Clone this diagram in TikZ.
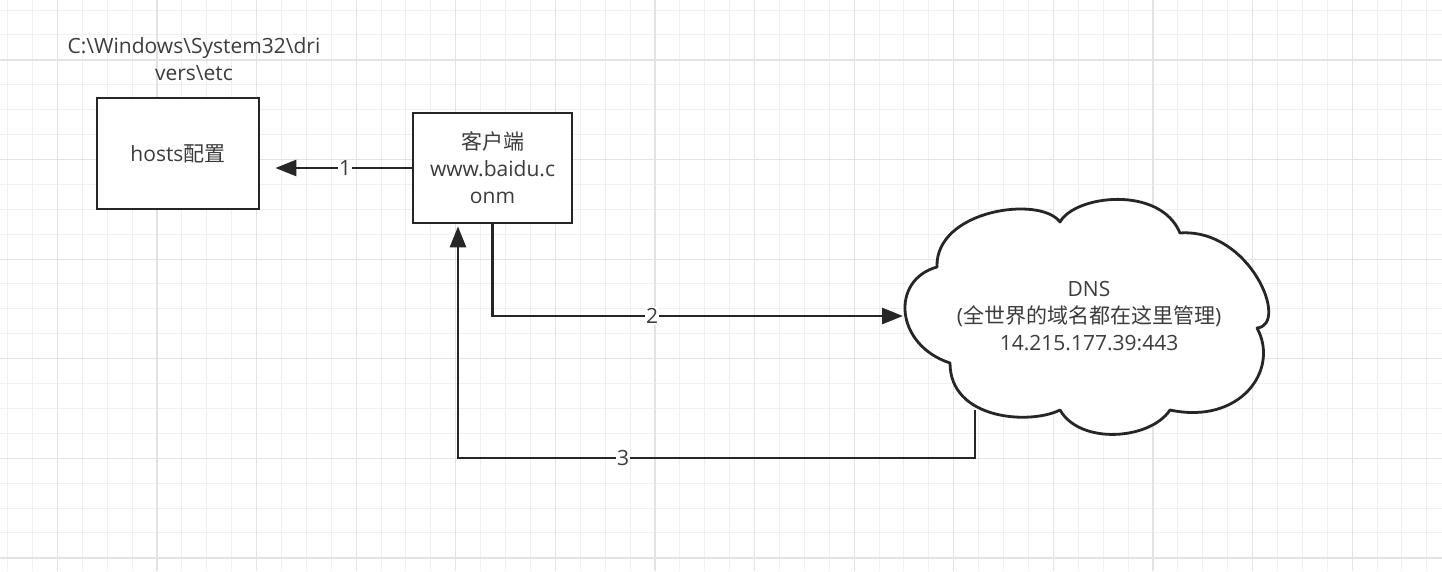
\documentclass[tikz,border=0pt]{standalone}
\usepackage{fontspec}
\setmainfont{Open Sans}
\newfontfamily\zh{Noto Sans CJK SC}
\usetikzlibrary{arrows.meta}
\definecolor{ink}{HTML}{262626}
\definecolor{txt}{HTML}{3C3C3C}
\definecolor{gridminor}{HTML}{F0F0F3}
\definecolor{gridmajor}{HTML}{E3E3E7}
\begin{document}
\begin{tikzpicture}[x=1pt,y=-1pt,
  every node/.style={font=\fontsize{21}{27}\selectfont, text=txt},
  box/.style={draw=ink, line width=2.8pt, fill=white, inner sep=0pt, align=center},
  arr/.style={draw=ink, line width=2.8pt, -{Triangle[length=21pt,width=16pt]}},
  lbl/.style={fill=white, inner sep=1pt},
  gminor/.style={draw=gridminor, line width=1pt},
  gmajor/.style={draw=gridmajor, line width=1.2pt}]
\useasboundingbox (0,0) rectangle (1442,571);
\fill[white] (0,0) rectangle (1442,571);

% background grid
\foreach \i in {0,...,57} {\draw[gminor] ({7.5+24.9*\i},0) -- ({7.5+24.9*\i},571);}
\foreach \j in {0,...,22} {\draw[gminor] (0,{10+24.9*\j}) -- (1442,{10+24.9*\j});}
\foreach \i in {0,...,13} {\draw[gmajor] ({57.3+99.6*\i},0) -- ({57.3+99.6*\i},571);}
\foreach \j in {0,...,5} {\draw[gmajor] (0,{60+99.6*\j}) -- (1442,{60+99.6*\j});}

% hosts file and its location
\node[align=center] (path) at (194,59) {C:\textbackslash Windows\textbackslash System32\textbackslash dri\\vers\textbackslash etc};
\node[box, minimum width=162pt, minimum height=111pt] (hosts) at (178,153.5) {hosts{\zh 配置}};

% client
\node[box, minimum width=159pt, minimum height=110pt] (client) at (492.5,168)
  {{\zh 客户端}\\www.baidu.c\\onm};

% DNS cloud
\draw[ink, line width=2.8pt, fill=white, line join=round]
  (950,363) .. controls (895,345) and (890,280) .. (937,267)
  .. controls (935,210) and (1040,195) .. (1060,222)
  .. controls (1075,195) and (1160,185) .. (1180,233)
  .. controls (1250,228) and (1290,325) .. (1257,328)
  .. controls (1280,370) and (1240,425) .. (1170,410)
  .. controls (1150,440) and (1080,445) .. (1060,410)
  .. controls (1030,425) and (950,420) .. (950,363) -- cycle;
\node[align=center] (dns) at (1089,316)
  {DNS\\({\zh 全世界的域名都在这里管理})\\14.215.177.39:443};
\coordinate (dnsw) at (903,316);
\coordinate (dnss) at (975,410);
\coordinate (turn3) at (458,458);

% connectors
\draw[arr, shorten >=15pt] (client.west) -- (client.west -| hosts.east);
\draw[arr] (client.south) |- (dnsw);
\draw[arr, shorten >=2pt] (dnss) |- (turn3) -- (turn3 |- client.south);

% step numbers
\node[lbl] (n1) at (345,168) {1};
\node[lbl] (n2) at (652,316) {2};
\node[lbl] (n3) at (623,458) {3};
\end{tikzpicture}
\end{document}
